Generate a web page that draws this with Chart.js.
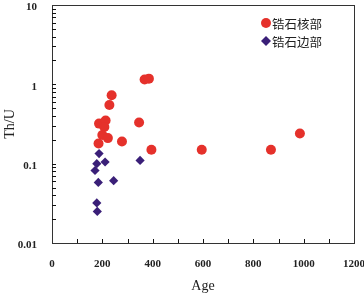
<!DOCTYPE html>
<html>
<head>
<meta charset="utf-8">
<script src="https://cdn.jsdelivr.net/npm/chart.js@4/dist/chart.umd.min.js"></script>
<style>
  html, body { margin: 0; padding: 0; background: #fff; }
</style>
</head>
<body>
<canvas id="scatterplot" width="364" height="297"></canvas>
<script>
// zircon core points (red circles)
const coreAges = [237, 228, 368, 385, 187, 213, 208, 346, 200, 222, 185, 278, 395, 595, 870, 985];
const coreThU = [0.73, 0.55, 1.15, 1.18, 0.32, 0.35, 0.29, 0.33, 0.23, 0.21, 0.18, 0.19, 0.15, 0.15, 0.15, 0.24];

// zircon rim points (purple diamonds)
const rimAges = [187, 211, 178, 171, 184, 245, 350, 178, 180];
const rimThU = [0.134, 0.105, 0.1, 0.082, 0.058, 0.061, 0.11, 0.032, 0.025];

const seriesNames = ["锆石核部", "锆石边部"];
const xMin = 0, xMax = 1200, xStep = 100, xLabelEvery = 200;
const yMin = 0.01, yMax = 10;

const RED = "#e5312b";
const PURPLE = "#3a1f78";
const AXIS = "#333";
const serif = "'Liberation Serif', 'DejaVu Serif', serif";

function toPoints(xs, ys) {
  return xs.map((x, i) => ({ x: x, y: ys[i] }));
}

// pin the axis sizes so the plot box sits where the original one does
function fixSize(prop, size) {
  return function (scale) {
    scale[prop] = size;
    scale.paddingTop = 0;
    scale.paddingBottom = 0;
    scale.paddingLeft = 0;
    scale.paddingRight = 0;
  };
}

// tick marks pointing into the plot
const innerTicks = {
  id: "innerTicks",
  afterDraw(chart) {
    const { ctx, chartArea, scales } = chart;
    ctx.save();
    ctx.strokeStyle = "#111";
    ctx.lineWidth = 1;
    ctx.setLineDash([]);
    ctx.beginPath();
    scales.x.ticks.forEach((t) => {
      if (t.value <= xMin || t.value >= xMax) return;
      const px = Math.round(scales.x.getPixelForValue(t.value)) + 0.5;
      ctx.moveTo(px, chartArea.bottom);
      ctx.lineTo(px, chartArea.bottom - 4);
    });
    // 1..9 in every decade of the log axis
    const e0 = Math.round(Math.log10(yMin));
    const e1 = Math.round(Math.log10(yMax));
    for (let e = e0; e < e1; e++) {
      for (let s = 1; s < 10; s++) {
        const v = s * Math.pow(10, e);
        if (e === e0 && s === 1) continue;
        const py = Math.round(scales.y.getPixelForValue(v)) + 0.5;
        ctx.moveTo(chartArea.left, py);
        ctx.lineTo(chartArea.left + 4, py);
      }
    }
    ctx.stroke();
    ctx.restore();
  },
};

// legend in the top right corner of the plot
const cornerLegend = {
  id: "cornerLegend",
  afterDraw(chart) {
    const { ctx, chartArea } = chart;
    ctx.save();
    chart.data.datasets.forEach((ds, i) => {
      const x = chartArea.right - 88;
      const y = chartArea.top + 18 + i * 18;
      ctx.fillStyle = ds.backgroundColor;
      ctx.beginPath();
      if (ds.pointStyle === "circle") {
        ctx.arc(x, y, 5, 0, Math.PI * 2);
      } else {
        ctx.moveTo(x - 5, y);
        ctx.lineTo(x, y - 5);
        ctx.lineTo(x + 5, y);
        ctx.lineTo(x, y + 5);
        ctx.closePath();
      }
      ctx.fill();
      ctx.fillStyle = "#222";
      ctx.font = "12.5px 'Noto Sans CJK SC'";
      ctx.textAlign = "left";
      ctx.textBaseline = "middle";
      ctx.fillText(ds.label, x + 6, y + 1);
    });
    ctx.restore();
  },
};

const plainEdge = {
  ticks: { display: false },
  grid: { drawOnChartArea: false, drawTicks: false },
  border: { color: AXIS },
};

const config = {
  type: "scatter",
  data: {
    datasets: [
      {
        label: seriesNames[0],
        data: toPoints(coreAges, coreThU),
        pointStyle: "circle",
        pointRadius: 5,
        pointHoverRadius: 5,
        backgroundColor: RED,
        borderWidth: 0,
      },
      {
        label: seriesNames[1],
        data: toPoints(rimAges, rimThU),
        pointStyle: "rectRot",
        pointRadius: 4.6,
        pointHoverRadius: 4.6,
        backgroundColor: PURPLE,
        borderWidth: 0,
      },
    ],
  },
  options: {
    responsive: false,
    animation: false,
    events: [],
    layout: { padding: { top: 4, right: 10, left: 0, bottom: 0 } },
    plugins: {
      legend: { display: false },
      tooltip: { enabled: false },
    },
    scales: {
      x: {
        type: "linear",
        position: "bottom",
        min: xMin,
        max: xMax,
        afterFit: fixSize("height", 54),
        grid: { drawOnChartArea: false, drawTicks: false },
        border: { color: AXIS },
        ticks: {
          stepSize: xStep,
          autoSkip: false,
          maxRotation: 0,
          padding: 15,
          color: "#222",
          font: { family: serif, size: 11, weight: "bold" },
          callback: (v) => (v % xLabelEvery === 0 ? String(v) : ""),
        },
        title: {
          display: true,
          text: "Age",
          color: "#222",
          font: { family: serif, size: 14 },
          padding: { top: 0, bottom: 2 },
        },
      },
      y: {
        type: "logarithmic",
        position: "left",
        min: yMin,
        max: yMax,
        afterFit: fixSize("width", 52),
        grid: { drawOnChartArea: false, drawTicks: false },
        border: { color: AXIS },
        ticks: {
          autoSkip: false,
          padding: 15,
          labelOffset: 2.5,
          color: "#222",
          font: { family: serif, size: 11, weight: "bold" },
          callback: (v) => {
            const e = Math.log10(v);
            return Math.abs(e - Math.round(e)) < 1e-9 ? String(v) : "";
          },
        },
        title: {
          display: true,
          text: "Th/U",
          color: "#222",
          font: { family: serif, size: 14 },
          padding: { top: 2, bottom: 0 },
        },
      },
      xTop: {
        type: "linear",
        position: "top",
        min: xMin,
        max: xMax,
        afterFit: fixSize("height", 0),
        ...plainEdge,
      },
      yRight: {
        type: "logarithmic",
        position: "right",
        min: yMin,
        max: yMax,
        afterFit: fixSize("width", 0),
        ...plainEdge,
      },
    },
  },
  plugins: [innerTicks, cornerLegend],
};

new Chart(document.getElementById("scatterplot"), config);
</script>
</body>
</html>
